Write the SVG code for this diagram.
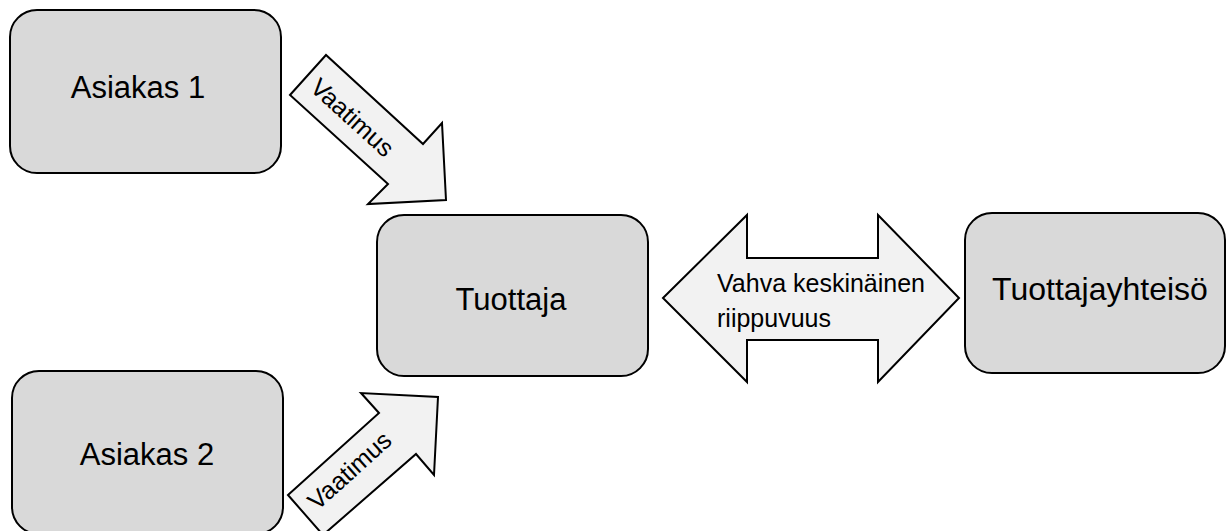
<svg xmlns="http://www.w3.org/2000/svg" width="1227" height="531" viewBox="0 0 1227 531">
<style>
.box{fill:#d9d9d9;stroke:#000;stroke-width:2}
.arr{fill:#f2f2f2;stroke:#000;stroke-width:2;stroke-linejoin:miter}
.lbl{font-family:"Liberation Sans",Arial,sans-serif;font-size:31px;fill:#000;text-anchor:middle}
.al{font-family:"Liberation Sans",Arial,sans-serif;font-size:25px;fill:#000}
</style>
<rect width="1227" height="531" fill="#fff"/>
<g id="connectors">
<g id="arrow1">
<polygon class="arr" points="290,95 326,55 423,144 442,123 446,200 368,204 388,184"/>
<text class="al" text-anchor="middle" transform="translate(352,118) rotate(42.3)" y="8">Vaatimus</text>
</g>
<g id="arrow2">
<polygon class="arr" points="288,495 379,413 361,393 438,397 434,475 416,454 323,535"/>
<text class="al" text-anchor="middle" transform="translate(350,471) rotate(-42)" y="8">Vaatimus</text>
</g>
<g id="double-arrow">
<polygon class="arr" points="663,298 747,215 747,258 878,258 878,215 959,298 878,382 878,340 747,340 747,382"/>
<text class="al" x="717" y="292">Vahva keskinäinen</text>
<text class="al" x="717" y="327">riippuvuus</text>
</g>
</g>
<g id="asiakas1">
<rect class="box" x="10" y="10" width="271" height="163" rx="27"/>
<text class="lbl" x="138" y="98">Asiakas 1</text>
</g>
<g id="asiakas2">
<rect class="box" x="12" y="371" width="271" height="163" rx="27"/>
<text class="lbl" x="147" y="465">Asiakas 2</text>
</g>
<g id="tuottaja">
<rect class="box" x="377" y="215" width="271" height="161" rx="27"/>
<text class="lbl" x="511" y="310">Tuottaja</text>
</g>
<g id="tuottajayhteiso">
<rect class="box" x="965" y="213" width="260" height="160" rx="27"/>
<text class="lbl" x="1100" y="300" style="font-size:32px">Tuottajayhteisö</text>
</g>
</svg>
